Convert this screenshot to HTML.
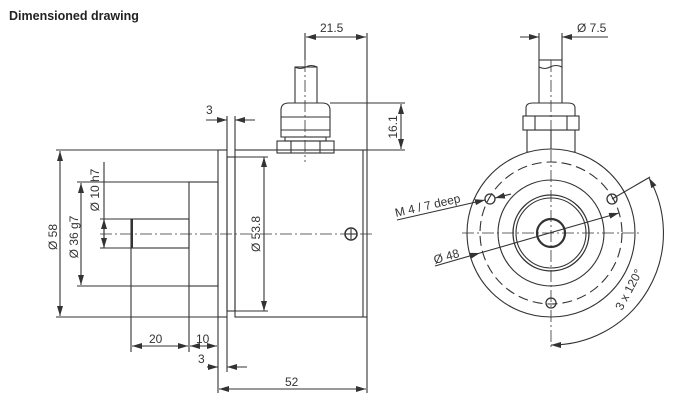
<!DOCTYPE html>
<html><head><meta charset="utf-8"><style>
html,body{margin:0;padding:0;background:#fff;}
svg{display:block;}
text{font-family:"Liberation Sans",sans-serif;fill:#333;}
</style></head><body>
<svg width="689" height="400" viewBox="0 0 689 400" xmlns="http://www.w3.org/2000/svg">
<defs>
<marker id="a" viewBox="0 0 10 6" refX="10" refY="3" markerWidth="10" markerHeight="6" markerUnits="userSpaceOnUse" orient="auto-start-reverse"><path d="M0,0 L10,3 L0,6z" fill="#333"/></marker>
</defs>
<text x="9" y="20" font-size="12.5" font-weight="bold" style="fill:#222">Dimensioned drawing</text>
<g stroke="#333" stroke-width="1.1" fill="none">
<line x1="100" y1="234" x2="375" y2="234" stroke-dasharray="12 3 2 3" stroke-width="0.8"/>
<rect x="218" y="150" width="9" height="167"/>
<rect x="227" y="157" width="8" height="154"/>
<rect x="235" y="150" width="132" height="167"/>
<line x1="363" y1="150" x2="363" y2="317"/>
<rect x="189" y="182" width="29" height="104"/>
<rect x="131" y="219" width="58" height="29"/>
<line x1="132" y1="219" x2="132" y2="248" stroke-width="2"/>
<circle cx="351" cy="234" r="6" stroke-width="1.5"/>
<line x1="346" y1="234" x2="356" y2="234"/><line x1="351" y1="229" x2="351" y2="239"/>
<rect x="295" y="67" width="22" height="37" fill="#fff"/>
<path d="M295,67 q5,3 11,0 q5,-3 11,0" />
<path d="M281,137 V110 q0,-7 8,-7 h33 q8,0 8,7 V137 Z" fill="#fff"/>
<line x1="281" y1="117" x2="330" y2="117"/><line x1="281" y1="130" x2="330" y2="130"/>
<rect x="285" y="137" width="41" height="4"/>
<rect x="277" y="141" width="57" height="12"/>
<line x1="291" y1="141" x2="291" y2="153"/><line x1="320" y1="141" x2="320" y2="153"/>
<line x1="305" y1="60" x2="305" y2="162" stroke-dasharray="12 3 2 3" stroke-width="0.8"/>
<line x1="56" y1="150" x2="218" y2="150"/>
<line x1="56" y1="317" x2="218" y2="317"/>
<line x1="60" y1="151" x2="60" y2="316" marker-start="url(#a)" marker-end="url(#a)"/>
<line x1="77" y1="182" x2="189" y2="182"/>
<line x1="77" y1="286" x2="189" y2="286"/>
<line x1="81" y1="183" x2="81" y2="285" marker-start="url(#a)" marker-end="url(#a)"/>
<line x1="104" y1="162" x2="104" y2="248"/>
<line x1="100" y1="219" x2="131" y2="219"/>
<line x1="100" y1="248" x2="131" y2="248"/>
<line x1="104" y1="219" x2="104" y2="248" marker-start="url(#a)" marker-end="url(#a)"/>
<line x1="264" y1="157" x2="264" y2="311" marker-start="url(#a)" marker-end="url(#a)"/>
<line x1="235" y1="157" x2="268" y2="157"/><line x1="235" y1="311" x2="268" y2="311"/>
<line x1="131" y1="248" x2="131" y2="352"/>
<line x1="189" y1="286" x2="189" y2="352"/>
<line x1="218" y1="317" x2="218" y2="393"/>
<line x1="227" y1="317" x2="227" y2="372"/>
<line x1="367" y1="317" x2="367" y2="393"/>
<line x1="132" y1="346" x2="188" y2="346" marker-start="url(#a)" marker-end="url(#a)"/>
<line x1="190" y1="346" x2="217" y2="346" marker-start="url(#a)" marker-end="url(#a)"/>
<line x1="207" y1="367" x2="218" y2="367" marker-end="url(#a)"/>
<line x1="247" y1="367" x2="227" y2="367" marker-end="url(#a)"/>
<line x1="219" y1="389" x2="366" y2="389" marker-start="url(#a)" marker-end="url(#a)"/>
<line x1="227" y1="116" x2="227" y2="150"/><line x1="235" y1="116" x2="235" y2="150"/>
<line x1="206" y1="120" x2="227" y2="120" marker-end="url(#a)"/>
<line x1="255" y1="120" x2="235" y2="120" marker-end="url(#a)"/>
<line x1="305" y1="33" x2="305" y2="60"/>
<line x1="367" y1="33" x2="367" y2="150"/>
<line x1="306" y1="37" x2="366" y2="37" marker-start="url(#a)" marker-end="url(#a)"/>
<line x1="330" y1="103" x2="405" y2="103"/>
<line x1="367" y1="150" x2="405" y2="150"/>
<line x1="401" y1="104" x2="401" y2="149" marker-start="url(#a)" marker-end="url(#a)"/>

<rect x="527" y="130" width="48" height="22"/>
<line x1="551" y1="130" x2="551" y2="152"/>
<rect x="539" y="60" width="23" height="44" fill="#fff"/>
<path d="M539,67 q6,3 11,0 q6,-3 12,0"/>
<path d="M526,116 V108 q0,-5 7,-5 h35 q7,0 7,5 V116 Z" fill="#fff"/>
<rect x="523" y="116" width="56" height="14" fill="#fff"/>
<line x1="535" y1="116" x2="535" y2="130"/><line x1="567" y1="116" x2="567" y2="130"/>
<line x1="551" y1="60" x2="551" y2="150" stroke-dasharray="12 3 2 3" stroke-width="0.8"/>
<circle cx="551" cy="233" r="84" fill="#fff"/>
<circle cx="551" cy="233" r="71" stroke-dasharray="10 5"/>
<circle cx="551" cy="233" r="53"/>
<circle cx="551" cy="233" r="38" stroke-width="1.3"/>
<circle cx="551" cy="233" r="35"/>
<circle cx="551" cy="233" r="14" stroke-width="2.2"/>
<line x1="462" y1="233" x2="642" y2="233" stroke-dasharray="12 3 2 3" stroke-width="0.8"/>
<line x1="551" y1="150" x2="551" y2="350" stroke-dasharray="12 3 2 3" stroke-width="0.8"/>
<circle cx="490" cy="199" r="5" stroke-width="1.3"/>
<circle cx="612" cy="199" r="5" stroke-width="1.3"/>
<circle cx="551" cy="303" r="5" stroke-width="1.3"/>
<line x1="539" y1="33" x2="539" y2="60"/><line x1="562" y1="33" x2="562" y2="60"/>
<line x1="520" y1="37" x2="539" y2="37" marker-end="url(#a)"/>
<line x1="608" y1="37" x2="562" y2="37" marker-end="url(#a)"/>
<line x1="397" y1="220" x2="485" y2="200" marker-end="url(#a)"/>
<line x1="511" y1="194" x2="495" y2="198" marker-end="url(#a)"/>
<line x1="435" y1="266" x2="480" y2="253" marker-end="url(#a)"/>
<line x1="480" y1="253" x2="619" y2="213" marker-end="url(#a)"/>
<line x1="612" y1="199" x2="650" y2="177"/>
<path d="M649,178 A112,112 0 0 1 551,345" marker-start="url(#a)" marker-end="url(#a)"/>
</g>
<g font-size="12">
<text x="320" y="32">21.5</text>
<text x="577" y="32">Ø 7.5</text>
<text x="206" y="114">3</text>
<text x="198" y="363">3</text>
<text x="149" y="343">20</text>
<text x="196" y="343">10</text>
<text x="285" y="386">52</text>
<text transform="translate(57,237) rotate(-90)" text-anchor="middle">Ø 58</text>
<text transform="translate(78,237) rotate(-90)" text-anchor="middle">Ø 36 g7</text>
<text transform="translate(99,190) rotate(-90)" text-anchor="middle">Ø 10 h7</text>
<text transform="translate(260,234) rotate(-90)" text-anchor="middle">Ø 53.8</text>
<text transform="translate(397,127) rotate(-90)" text-anchor="middle">16.1</text>
<text transform="translate(396,217) rotate(-13)">M 4 / 7 deep</text>
<text transform="translate(435,264) rotate(-16)">Ø 48</text>
<text transform="translate(622,311) rotate(-62)">3 x 120°</text>
</g>
</svg>
</body></html>
